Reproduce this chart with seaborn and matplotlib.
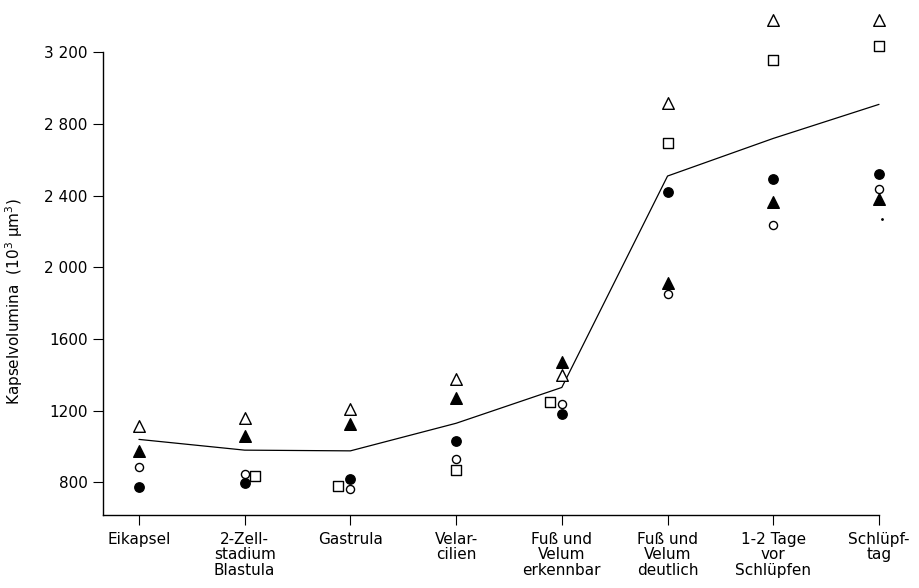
import seaborn as sns
import matplotlib.pyplot as plt
import numpy as np
import pandas as pd

sns.set_style("ticks")
plt.rcParams['font.family'] = ['DejaVu Sans']
plt.rcParams['text.color'] = 'black'
plt.rcParams['axes.labelcolor'] = 'black'
plt.rcParams['xtick.color'] = 'black'
plt.rcParams['ytick.color'] = 'black'

# stages of development
stages = ["Eikapsel", "2-Zell-\nstadium\nBlastula", "Gastrula", "Velar-\ncilien",
          "Fuß und\nVelum\nerkennbar", "Fuß und\nVelum\ndeutlich",
          "1-2 Tage\nvor\nSchlüpfen", "Schlüpf-\ntag"]

# mean curve (10^3 µm^3)
mean_vol = [1040, 980, 976, 1130, 1330, 2510, 2720, 2910]

# single capsule series
tri_open = [1114, 1157, 1207, 1376, 1397, 2915, 3380, 3380]
tri_filled = [976, 1060, 1124, 1269, 1473, 1914, 2366, 2381]
circ_open = [884, 845, 761, 932, 1235, 1851, 2236, 2437]
circ_filled = [772, 794, 817, 1032, 1181, 2422, 2496, 2520]
square_open = [np.nan, 835, 781, 867, 1248, 2697, 3157, 3236]

yticks = [800, 1200, 1600, 2000, 2400, 2800, 3200]
ytick_labels = ["800", "1200", "1600", "2 000", "2 400", "2 800", "3 200"]

# small horizontal shifts where marks would overlap
shift = {"square_open": [0, 0.10, -0.12, 0, -0.11, 0, 0, 0]}

x = np.arange(len(stages))

series = {
    "tri_open": (tri_open, "^", "white", 70),
    "tri_filled": (tri_filled, "^", "black", 70),
    "circ_open": (circ_open, "o", "white", 34),
    "circ_filled": (circ_filled, "o", "black", 46),
    "square_open": (square_open, "s", "white", 44),
}

fig = plt.figure(figsize=(9.2, 5.88), dpi=100)
ax = fig.add_axes([103 / 920, 73 / 588, 813 / 920, 502 / 588])

line_df = pd.DataFrame({"x": x, "vol": mean_vol})
sns.lineplot(data=line_df, x="x", y="vol", color="black", linewidth=0.9, ax=ax)

for name, (vals, mk, fc, size) in series.items():
    dx = np.array(shift.get(name, [0] * len(stages)))
    df = pd.DataFrame({"x": x + dx, "vol": vals}).dropna()
    sns.scatterplot(data=df, x="x", y="vol", marker=mk, s=size, facecolor=fc,
                    edgecolor="black", linewidth=1.0, ax=ax, zorder=3)

# stray dot near the last stage
ax.plot([7.03], [2268], marker=".", color="black", markersize=2)

ax.set_xlim(-0.34, 7.35)
ax.set_ylim(618, 3420)
ax.set_xticks(x)
ax.set_xticklabels(stages, fontsize=11, linespacing=1.05)
ax.set_yticks(yticks)
ax.set_yticklabels(ytick_labels, fontsize=11)
ax.tick_params(axis="both", direction="out", length=7, width=0.8, color="black",
               labelcolor="black")
ax.tick_params(axis="x", pad=5)
ax.tick_params(axis="y", pad=4)

ax.set_xlabel("")
ax.set_ylabel("Kapselvolumina  (10$^3$ µm$^3$)", fontsize=11)
ax.yaxis.set_label_coords(-0.096, 0.425)

sns.despine(ax=ax)
ax.spines["left"].set_bounds(618, 3200)
ax.spines["bottom"].set_bounds(-0.34, 7)
for sp in ("left", "bottom"):
    ax.spines[sp].set_linewidth(1.0)
    ax.spines[sp].set_color("black")

fig.savefig("out.png", dpi=100)
